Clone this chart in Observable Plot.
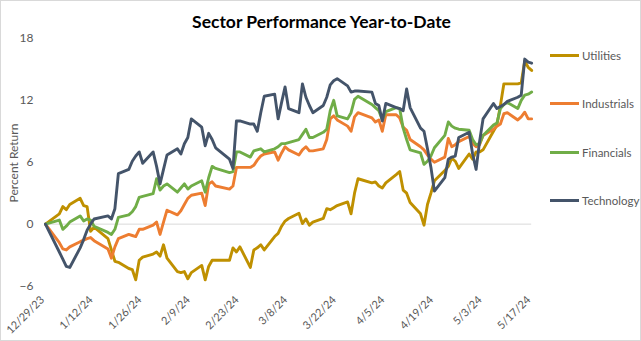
<!DOCTYPE html>
<html><head><meta charset="utf-8">
<script src="https://cdn.jsdelivr.net/npm/d3@7"></script>
<script src="https://cdn.jsdelivr.net/npm/@observablehq/plot@0.6"></script>
<style>
html,body{margin:0;padding:0;background:#fff;}
#wrap{position:relative;width:641px;height:341px;overflow:hidden;font-family:Lato,"Open Sans",sans-serif;background:#fff;box-sizing:border-box;border:1px solid #d9d9d9;}
#chart{position:absolute;left:-1px;top:-1px;}
#title{position:absolute;left:0;top:10px;width:641px;text-align:center;font-weight:bold;font-size:17.5px;color:#000;}
#ylab{position:absolute;left:12px;top:162px;transform:translate(-50%,-50%) rotate(-90deg);font-size:12px;color:#595959;white-space:nowrap;}
.leg{position:absolute;left:549px;font-size:11.5px;color:#595959;display:flex;align-items:center;}
.leg span.sw{display:inline-block;width:29px;height:3px;margin-right:3px;}
</style></head>
<body>
<div id="wrap">
  <div id="chart"></div>
  <div id="title">Sector Performance Year-to-Date</div>
  <div id="ylab">Percent Return</div>
  <div id="legend"></div>
</div>
<script>
// Series names and colours
const seriesNames = ["Utilities", "Industrials", "Financials", "Technology"];
const seriesColors = ["#BF9000", "#ED7D31", "#70AD47", "#44546A"];

// Trading days 12/29/2023 - 5/17/2024 (market holidays excluded)
const startDate = "2023-12-29";
const endDate = "2024-05-17";
const holidays = ["2024-01-01", "2024-01-15", "2024-02-19", "2024-03-29"];

// Y-axis tick values and x-axis tick dates
const yTicks = [-6, 0, 6, 12, 18];
const xTickLabels = ["2023-12-29","2024-01-12","2024-01-26","2024-02-09","2024-02-23","2024-03-08","2024-03-22","2024-04-05","2024-04-19","2024-05-03","2024-05-17"];

// Percent return by trading day (Dec | Jan | Feb | Mar | Apr | May)
const utilities = [0,
  1.0,1.7,1.4,1.9,2.5,1.8,1.7,-0.7,-0.3,-1.4,-2.5,-3.6,-3.7,-4.3,-4.4,-5.4,-3.5,-3.2,-2.9,-2.7,-3.1,
  -2.0,-3.3,-4.6,-4.7,-4.6,-5.3,-4.7,-4.0,-5.4,-4.1,-3.5,-3.5,-3.5,-2.3,-2.7,-2.2,-4.2,-2.5,-2.3,-2.0,
  -2.5,-1.2,-0.9,-0.2,0.3,0.55,1.05,0.05,0.5,-0.1,0.2,0.55,1.5,1.4,1.6,1.8,2.15,1.0,3.0,4.4,
  4.0,4.1,3.7,3.5,4.0,4.8,5.1,3.3,3.0,2.1,1.0,-0.1,1.9,3.0,4.2,5.2,5.6,6.4,6.1,5.4,6.8,6.3,
  7.0,7.0,7.2,9.0,9.6,11.5,13.6,13.6,13.6,13.7,15.8,15.2,14.9];
const industrials = [0,
  -1.8,-2.4,-2.5,-2.2,-1.7,-1.55,-1.4,-1.3,-1.6,-2.4,-3.3,-2.2,-1.4,-1.0,-1.1,-1.2,-0.5,-0.5,-0.1,0.2,-1.0,
  0.2,1.35,0.9,1.3,1.9,2.5,2.8,3.0,1.8,3.9,4.1,3.7,3.4,3.7,5.5,5.5,5.5,5.7,6.2,6.6,
  6.8,7.0,6.2,6.9,7.5,7.2,6.7,7.2,7.5,7.1,7.1,7.3,8.2,10.2,10.5,10.1,9.5,9.0,10.4,10.8,
  10.3,9.9,10.1,9.0,10.6,10.6,10.3,9.4,9.1,8.2,7.5,7.2,6.7,6.3,6.0,6.5,8.3,7.5,7.7,8.0,8.5,7.8,
  7.5,7.7,8.6,9.2,9.5,9.7,10.7,10.8,10.1,10.4,10.85,10.2,10.2];
const financials = [0,
  0.4,-0.5,-0.2,0.2,0.8,0.3,0.5,0.4,-0.2,-0.8,-1.0,-0.5,0.65,0.9,1.2,1.7,2.6,2.7,2.95,4.4,3.3,
  3.7,3.9,3.1,3.5,3.9,3.4,3.7,4.2,3.1,4.5,5.6,5.4,5.0,5.1,7.0,7.0,6.5,7.1,7.2,7.3,
  7.0,7.3,7.5,7.8,7.8,7.9,8.2,8.7,9.2,8.4,8.4,8.9,9.2,11.0,12.0,10.5,10.2,10.8,12.1,12.4,
  11.6,11.3,11.0,10.1,10.9,11.3,11.2,9.3,8.2,7.2,6.9,5.8,6.1,6.6,7.4,8.6,9.9,9.5,9.3,9.2,9.1,8.2,
  7.7,7.8,8.6,9.6,9.8,11.2,11.6,11.8,11.2,12.0,12.5,12.6,12.8];
const technology = [0,
  -2.7,-3.4,-4.1,-4.2,-2.3,-1.5,-0.6,0.0,0.5,0.8,0.5,1.5,4.9,5.3,6.1,6.6,7.0,5.9,7.0,5.6,3.9,
  5.3,6.7,7.3,6.8,7.8,8.4,10.2,9.4,7.6,8.8,8.2,7.4,6.3,5.4,10.0,10.0,9.7,9.7,9.0,10.8,
  12.4,12.6,10.2,11.8,13.3,11.2,10.8,13.6,12.3,11.5,10.8,11.5,12.3,13.5,13.9,14.1,13.4,12.8,12.9,12.9,
  12.8,11.7,11.5,10.0,11.7,11.3,11.2,11.0,13.1,11.3,9.3,9.0,7.3,5.5,3.2,4.5,6.3,6.5,6.6,8.4,8.9,6.8,
  5.3,8.0,10.2,11.7,11.2,11.4,11.6,11.9,12.3,12.5,16.0,15.7,15.6];

const seriesValues = [utilities, industrials, financials, technology];

// Build trading-day list
const hol = new Set(holidays);
const dates = [];
for (let d = new Date(startDate + "T00:00:00Z"); d <= new Date(endDate + "T00:00:00Z"); d = new Date(d.getTime() + 864e5)) {
  const wd = d.getUTCDay();
  const iso = d.toISOString().slice(0, 10);
  if (wd !== 0 && wd !== 6 && !hol.has(iso)) dates.push(d);
}

const rows = [];
seriesNames.forEach((name, i) => {
  seriesValues[i].forEach((v, j) => rows.push({series: name, date: dates[j], value: v}));
});

const W = 641, H = 341;
const chart = Plot.plot({
  width: W,
  height: H,
  marginTop: 38,
  marginBottom: 55,
  marginLeft: 45,
  marginRight: 109,
  style: {fontFamily: "Lato, 'Open Sans', sans-serif", background: "transparent"},
  x: {type: "utc", domain: [new Date(startDate + "T00:00:00Z"), new Date(endDate + "T00:00:00Z")]},
  y: {domain: [-6, 18]},
  color: {domain: seriesNames, range: seriesColors},
  marks: [
    Plot.ruleY([0], {stroke: "#d9d9d9", strokeWidth: 1}),
    Plot.axisY({ticks: yTicks, tickSize: 0, tickPadding: 12, label: null, fontSize: 12, color: "#595959"}),
    Plot.axisX({ticks: xTickLabels.map(s => new Date(s + "T00:00:00Z")), tickFormat: d3.utcFormat("%-m/%-d/%y"), tickRotate: -45, tickSize: 0, tickPadding: 12, dx: -3, label: null, fontSize: 11, color: "#595959"}),
    ...seriesNames.map(name => Plot.lineY(rows.filter(r => r.series === name), {
      x: "date", y: "value", stroke: "series", strokeWidth: 2.9, strokeLinejoin: "round", strokeLinecap: "round"
    }))
  ]
});
document.getElementById("chart").appendChild(chart);

// Legend
const legendY = [57, 105, 154, 202];
const legend = document.getElementById("legend");
seriesNames.forEach((name, i) => {
  const item = document.createElement("div");
  item.className = "leg";
  item.style.top = (legendY[i] - 9) + "px";
  item.innerHTML = `<span class="sw" style="background:${seriesColors[i]}"></span>${name}`;
  legend.appendChild(item);
});
</script>
</body></html>
